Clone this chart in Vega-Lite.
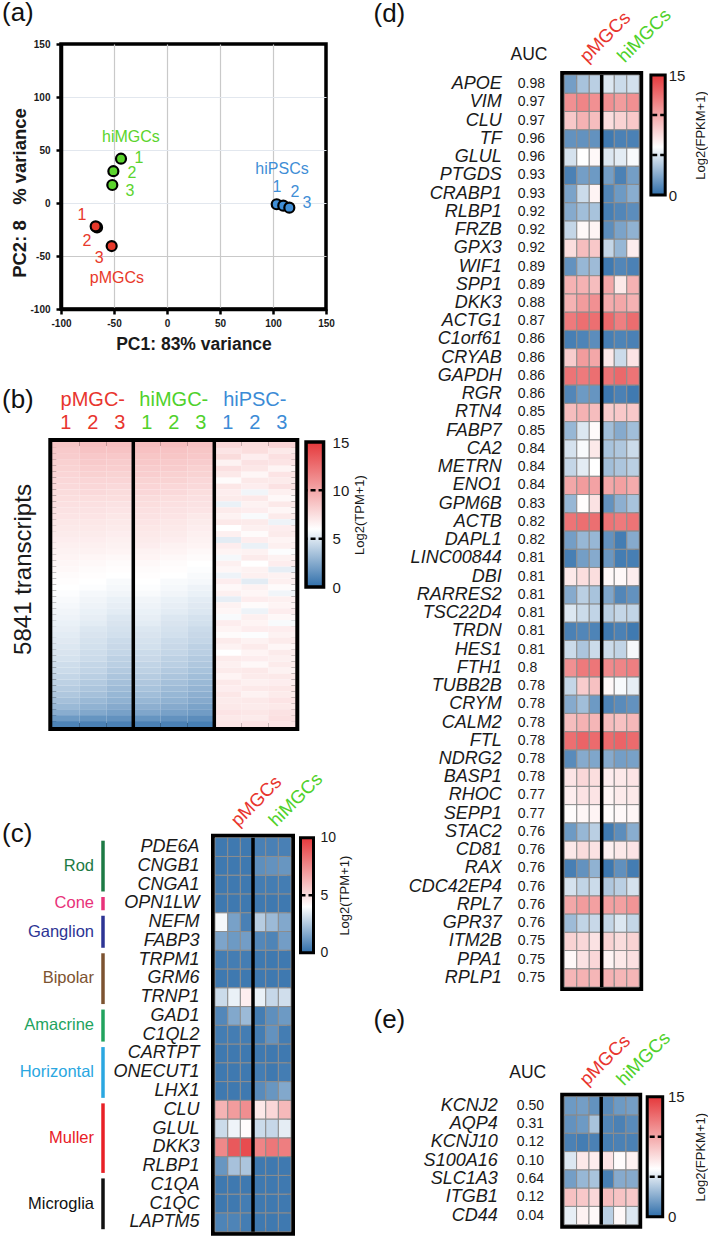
{
"$schema": "https://vega.github.io/schema/vega-lite/v6.json",
"background": "white",
"autosize": {"type": "pad"},
"padding": {"left": 2, "top": 0, "right": 0, "bottom": 0},
"config": {
  "font": "Liberation Sans",
  "view": {"stroke": null},
  "axis": {"labelFont": "Liberation Sans", "titleFont": "Liberation Sans", "labelColor": "#1a1a1a", "titleColor": "#1a1a1a"},
  "title": {"font": "Liberation Sans", "fontSize": 26, "fontWeight": "normal", "anchor": "start", "frame": "group", "color": "#111111"}
},
"datasets": {
  "ta": [{"t": "PC2: 8\u00a0\u00a0 % variance"}],
  "tb": [{"t": "5841 transcripts"}],
  "dhead": [{"s": "p2", "t": "pMGCs"}, {"s": "h2", "t": "hiMGCs"}],
  "pca": [
    {"pc1": -66.0, "pc2": -23.0, "grp": "pMGCs"},
    {"pc1": -67.3, "pc2": -22.0, "grp": "pMGCs"},
    {"pc1": -52.2, "pc2": -40.6, "grp": "pMGCs"},
    {"pc1": -43.4, "pc2": 41.8, "grp": "hiMGCs"},
    {"pc1": -50.6, "pc2": 30.0, "grp": "hiMGCs"},
    {"pc1": -51.6, "pc2": 17.0, "grp": "hiMGCs"},
    {"pc1": 103.5, "pc2": -1.2, "grp": "hiPSCs"},
    {"pc1": 109.7, "pc2": -2.5, "grp": "hiPSCs"},
    {"pc1": 115.4, "pc2": -4.4, "grp": "hiPSCs"}
  ],
  "pcalab": [
    {"x": -34, "y": 62, "t": "hiMGCs", "grp": "hiMGCs"},
    {"x": -26.4, "y": 42.5, "t": "1", "grp": "hiMGCs"},
    {"x": -33, "y": 28.3, "t": "2", "grp": "hiMGCs"},
    {"x": -35, "y": 11.3, "t": "3", "grp": "hiMGCs"},
    {"x": -80.2, "y": -11.3, "t": "1", "grp": "pMGCs"},
    {"x": -75.5, "y": -35.8, "t": "2", "grp": "pMGCs"},
    {"x": -64, "y": -51.9, "t": "3", "grp": "pMGCs"},
    {"x": -47.2, "y": -70.8, "t": "pMGCs", "grp": "pMGCs"},
    {"x": 108.5, "y": 32, "t": "hiPSCs", "grp": "hiPSCs"},
    {"x": 103.8, "y": 15.1, "t": "1", "grp": "hiPSCs"},
    {"x": 120.8, "y": 10.4, "t": "2", "grp": "hiPSCs"},
    {"x": 132, "y": 0, "t": "3", "grp": "hiPSCs"}
  ],
  "bh": [
    {"r":1,"p1":8.6,"p2":8.9,"p3":8.9,"m1":9.0,"m2":9.0,"m3":8.8,"i1":7.8,"i2":7.6,"i3":7.9},
    {"r":2,"p1":8.4,"p2":8.7,"p3":8.7,"m1":8.8,"m2":8.7,"m3":8.6,"i1":7.2,"i2":7.5,"i3":7.0},
    {"r":3,"p1":8.3,"p2":8.5,"p3":8.5,"m1":8.6,"m2":8.6,"m3":8.5,"i1":7.6,"i2":6.8,"i3":7.4},
    {"r":4,"p1":8.1,"p2":8.4,"p3":8.3,"m1":8.5,"m2":8.4,"m3":8.3,"i1":6.6,"i2":7.3,"i3":7.2},
    {"r":5,"p1":8.0,"p2":8.2,"p3":8.2,"m1":8.3,"m2":8.3,"m3":8.1,"i1":7.4,"i2":7.1,"i3":6.5},
    {"r":6,"p1":7.9,"p2":8.1,"p3":8.0,"m1":8.2,"m2":8.1,"m3":8.0,"i1":7.0,"i2":6.4,"i3":7.2},
    {"r":7,"p1":7.8,"p2":7.9,"p3":7.9,"m1":8.0,"m2":8.0,"m3":7.8,"i1":6.2,"i2":7.0,"i3":6.9},
    {"r":8,"p1":7.7,"p2":7.8,"p3":7.7,"m1":7.9,"m2":7.8,"m3":7.7,"i1":7.1,"i2":6.8,"i3":7.3},
    {"r":9,"p1":7.6,"p2":7.7,"p3":7.6,"m1":7.8,"m2":7.7,"m3":7.5,"i1":6.8,"i2":5.6,"i3":6.7},
    {"r":10,"p1":7.5,"p2":7.5,"p3":7.5,"m1":7.6,"m2":7.5,"m3":7.4,"i1":6.9,"i2":7.0,"i3":6.3},
    {"r":11,"p1":7.4,"p2":7.4,"p3":7.3,"m1":7.5,"m2":7.4,"m3":7.3,"i1":5.4,"i2":6.6,"i3":7.0},
    {"r":12,"p1":7.3,"p2":7.3,"p3":7.2,"m1":7.4,"m2":7.3,"m3":7.2,"i1":6.9,"i2":6.8,"i3":6.4},
    {"r":13,"p1":7.2,"p2":7.2,"p3":7.1,"m1":7.3,"m2":7.2,"m3":7.0,"i1":6.6,"i2":5.8,"i3":6.9},
    {"r":14,"p1":7.1,"p2":7.1,"p3":7.0,"m1":7.2,"m2":7.1,"m3":6.9,"i1":7.0,"i2":6.9,"i3":5.5},
    {"r":15,"p1":7.0,"p2":7.0,"p3":6.9,"m1":7.1,"m2":7.0,"m3":6.8,"i1":6.0,"i2":6.7,"i3":6.8},
    {"r":16,"p1":6.9,"p2":6.9,"p3":6.8,"m1":7.0,"m2":6.9,"m3":6.7,"i1":6.7,"i2":6.2,"i3":6.9},
    {"r":17,"p1":6.8,"p2":6.8,"p3":6.7,"m1":6.9,"m2":6.8,"m3":6.6,"i1":5.2,"i2":6.8,"i3":6.5},
    {"r":18,"p1":6.7,"p2":6.7,"p3":6.6,"m1":6.8,"m2":6.6,"m3":6.5,"i1":6.8,"i2":5.4,"i3":6.7},
    {"r":19,"p1":6.6,"p2":6.6,"p3":6.5,"m1":6.6,"m2":6.5,"m3":6.3,"i1":6.5,"i2":6.6,"i3":5.9},
    {"r":20,"p1":6.5,"p2":6.4,"p3":6.3,"m1":6.5,"m2":6.3,"m3":6.2,"i1":5.7,"i2":6.9,"i3":6.6},
    {"r":21,"p1":6.4,"p2":6.3,"p3":6.2,"m1":6.3,"m2":6.2,"m3":6.0,"i1":6.7,"i2":6.0,"i3":6.8},
    {"r":22,"p1":6.3,"p2":6.2,"p3":6.1,"m1":6.2,"m2":6.1,"m3":5.9,"i1":6.4,"i2":6.6,"i3":5.3},
    {"r":23,"p1":6.2,"p2":6.1,"p3":6.0,"m1":6.1,"m2":6.0,"m3":5.8,"i1":5.5,"i2":6.7,"i3":6.6},
    {"r":24,"p1":6.1,"p2":6.0,"p3":5.8,"m1":6.0,"m2":5.8,"m3":5.7,"i1":6.8,"i2":5.2,"i3":6.7},
    {"r":25,"p1":6.0,"p2":5.9,"p3":5.7,"m1":5.9,"m2":5.7,"m3":5.5,"i1":6.3,"i2":6.6,"i3":6.2},
    {"r":26,"p1":5.9,"p2":5.7,"p3":5.6,"m1":5.8,"m2":5.6,"m3":5.4,"i1":6.7,"i2":6.4,"i3":5.6},
    {"r":27,"p1":5.8,"p2":5.6,"p3":5.4,"m1":5.6,"m2":5.4,"m3":5.2,"i1":5.3,"i2":6.8,"i3":6.7},
    {"r":28,"p1":5.7,"p2":5.5,"p3":5.3,"m1":5.5,"m2":5.3,"m3":5.1,"i1":6.6,"i2":6.2,"i3":6.5},
    {"r":29,"p1":5.6,"p2":5.4,"p3":5.2,"m1":5.4,"m2":5.2,"m3":5.0,"i1":6.4,"i2":5.5,"i3":6.8},
    {"r":30,"p1":5.5,"p2":5.3,"p3":5.0,"m1":5.3,"m2":5.0,"m3":4.8,"i1":5.8,"i2":6.7,"i3":6.3},
    {"r":31,"p1":5.4,"p2":5.2,"p3":4.9,"m1":5.2,"m2":4.9,"m3":4.7,"i1":6.8,"i2":6.5,"i3":5.8},
    {"r":32,"p1":5.3,"p2":5.0,"p3":4.8,"m1":5.0,"m2":4.8,"m3":4.5,"i1":6.5,"i2":6.8,"i3":6.8},
    {"r":33,"p1":5.2,"p2":4.9,"p3":4.7,"m1":4.9,"m2":4.7,"m3":4.4,"i1":6.2,"i2":5.9,"i3":6.6},
    {"r":34,"p1":5.1,"p2":4.8,"p3":4.5,"m1":4.8,"m2":4.5,"m3":4.3,"i1":6.9,"i2":6.6,"i3":6.9},
    {"r":35,"p1":5.0,"p2":4.7,"p3":4.4,"m1":4.7,"m2":4.4,"m3":4.1,"i1":6.6,"i2":6.9,"i3":6.4},
    {"r":36,"p1":4.9,"p2":4.6,"p3":4.3,"m1":4.5,"m2":4.3,"m3":4.0,"i1":6.0,"i2":6.5,"i3":6.9},
    {"r":37,"p1":4.8,"p2":4.5,"p3":4.1,"m1":4.4,"m2":4.1,"m3":3.8,"i1":6.9,"i2":6.8,"i3":6.7},
    {"r":38,"p1":4.6,"p2":4.3,"p3":4.0,"m1":4.2,"m2":4.0,"m3":3.7,"i1":6.7,"i2":6.3,"i3":6.9},
    {"r":39,"p1":4.5,"p2":4.2,"p3":3.8,"m1":4.1,"m2":3.8,"m3":3.5,"i1":6.9,"i2":7.0,"i3":6.6},
    {"r":40,"p1":4.3,"p2":4.0,"p3":3.6,"m1":3.9,"m2":3.6,"m3":3.3,"i1":6.5,"i2":6.9,"i3":7.0},
    {"r":41,"p1":4.1,"p2":3.8,"p3":3.4,"m1":3.7,"m2":3.4,"m3":3.1,"i1":7.0,"i2":6.7,"i3":6.8},
    {"r":42,"p1":3.9,"p2":3.6,"p3":3.2,"m1":3.5,"m2":3.2,"m3":2.9,"i1":6.8,"i2":7.0,"i3":7.1},
    {"r":43,"p1":3.7,"p2":3.4,"p3":3.0,"m1":3.3,"m2":3.0,"m3":2.7,"i1":7.1,"i2":6.6,"i3":6.9},
    {"r":44,"p1":3.4,"p2":3.1,"p3":2.8,"m1":3.0,"m2":2.8,"m3":2.5,"i1":6.9,"i2":7.0,"i3":7.2},
    {"r":45,"p1":3.1,"p2":2.8,"p3":2.5,"m1":2.7,"m2":2.5,"m3":2.2,"i1":7.0,"i2":6.9,"i3":7.0},
    {"r":46,"p1":2.6,"p2":2.4,"p3":2.1,"m1":2.3,"m2":2.1,"m3":1.9,"i1":7.2,"i2":7.1,"i3":7.3},
    {"r":47,"p1":1.8,"p2":1.6,"p3":1.5,"m1":1.6,"m2":1.5,"m3":1.3,"i1":7.0,"i2":6.9,"i3":7.4},
    {"r":48,"p1":0.9,"p2":0.8,"p3":0.8,"m1":0.8,"m2":0.8,"m3":0.7,"i1":7.1,"i2":7.2,"i3":7.2}
  ],
  "c": [
    {"g":"PDE6A","p1":0.3,"p2":0.3,"p3":0.3,"h1":0.5,"h2":0.5,"h3":0.5},
    {"g":"CNGB1","p1":0.3,"p2":0.3,"p3":0.3,"h1":0.9,"h2":1.0,"h3":1.1},
    {"g":"CNGA1","p1":0.3,"p2":0.3,"p3":0.3,"h1":0.4,"h2":0.4,"h3":0.4},
    {"g":"OPN1LW","p1":0.3,"p2":0.3,"p3":0.3,"h1":0.3,"h2":0.3,"h3":0.3},
    {"g":"NEFM","p1":3.8,"p2":1.4,"p3":0.5,"h1":2.6,"h2":2.1,"h3":1.6},
    {"g":"FABP3","p1":1.5,"p2":1.2,"p3":1.3,"h1":0.7,"h2":0.6,"h3":1.3},
    {"g":"TRPM1","p1":0.4,"p2":0.4,"p3":0.4,"h1":0.3,"h2":0.3,"h3":0.3},
    {"g":"GRM6","p1":0.3,"p2":0.3,"p3":0.3,"h1":0.3,"h2":0.3,"h3":0.3},
    {"g":"TRNP1","p1":3.0,"p2":3.6,"p3":4.5,"h1":3.6,"h2":2.9,"h3":3.1},
    {"g":"GAD1","p1":0.7,"p2":1.6,"p3":2.1,"h1":0.4,"h2":0.9,"h3":1.2},
    {"g":"C1QL2","p1":0.4,"p2":0.4,"p3":0.4,"h1":0.4,"h2":1.0,"h3":0.4},
    {"g":"CARTPT","p1":0.3,"p2":0.3,"p3":0.3,"h1":0.3,"h2":0.3,"h3":0.3},
    {"g":"ONECUT1","p1":0.3,"p2":0.3,"p3":0.3,"h1":0.4,"h2":0.3,"h3":0.4},
    {"g":"LHX1","p1":0.3,"p2":0.3,"p3":0.3,"h1":0.8,"h2":1.1,"h3":1.6},
    {"g":"CLU","p1":6.3,"p2":7.0,"p3":7.4,"h1":4.7,"h2":5.2,"h3":6.1},
    {"g":"GLUL","p1":3.0,"p2":3.7,"p3":4.1,"h1":3.0,"h2":2.9,"h3":3.5},
    {"g":"DKK3","p1":7.6,"p2":9.0,"p3":9.4,"h1":7.7,"h2":8.1,"h3":7.9},
    {"g":"RLBP1","p1":1.1,"p2":2.3,"p3":2.4,"h1":0.3,"h2":0.3,"h3":0.3},
    {"g":"C1QA","p1":0.3,"p2":0.3,"p3":0.3,"h1":0.3,"h2":0.3,"h3":0.3},
    {"g":"C1QC","p1":0.3,"p2":0.3,"p3":0.4,"h1":0.3,"h2":0.3,"h3":0.3},
    {"g":"LAPTM5","p1":0.6,"p2":0.6,"p3":0.4,"h1":0.3,"h2":0.3,"h3":0.3}
  ],
  "cg": [
    {"grp":"Rod","from":0,"to":3},
    {"grp":"Cone","from":3,"to":4},
    {"grp":"Ganglion","from":4,"to":6},
    {"grp":"Bipolar","from":6,"to":9},
    {"grp":"Amacrine","from":9,"to":11},
    {"grp":"Horizontal","from":11,"to":14},
    {"grp":"Muller","from":14,"to":18},
    {"grp":"Microglia","from":18,"to":21}
  ],
  "d": [
    {"k":"APOE|0.98","p1":2,"p2":3.5,"p3":4,"h1":5,"h2":4.5,"h3":4.7},
    {"k":"VIM|0.97","p1":11,"p2":11.5,"p3":11,"h1":11,"h2":10.5,"h3":11},
    {"k":"CLU|0.97","p1":8.5,"p2":9.5,"p3":9,"h1":7.5,"h2":8,"h3":8.5},
    {"k":"TF|0.96","p1":1.5,"p2":1.5,"p3":1.5,"h1":0.5,"h2":0.8,"h3":0.8},
    {"k":"GLUL|0.96","p1":4.8,"p2":6,"p3":6.3,"h1":5,"h2":5.2,"h3":5.8},
    {"k":"PTGDS|0.93","p1":0.8,"p2":2,"p3":1.8,"h1":2,"h2":0.8,"h3":2},
    {"k":"CRABP1|0.93","p1":2.2,"p2":4.5,"p3":6.5,"h1":1,"h2":1.8,"h3":2.6},
    {"k":"RLBP1|0.92","p1":2.5,"p2":3.3,"p3":3.5,"h1":0.7,"h2":1,"h3":1.3},
    {"k":"FRZB|0.92","p1":4.3,"p2":6.3,"p3":6.5,"h1":1.3,"h2":2.2,"h3":2.8},
    {"k":"GPX3|0.92","p1":7.5,"p2":9,"p3":8.5,"h1":4.3,"h2":3,"h3":6.8},
    {"k":"WIF1|0.89","p1":1.5,"p2":3,"p3":3.2,"h1":0.5,"h2":1,"h3":0.8},
    {"k":"SPP1|0.89","p1":9.5,"p2":9.5,"p3":9,"h1":10,"h2":7,"h3":9.5},
    {"k":"DKK3|0.88","p1":9.5,"p2":10.5,"p3":11,"h1":9.8,"h2":10,"h3":9.5},
    {"k":"ACTG1|0.87","p1":12,"p2":12.5,"p3":12.5,"h1":12.8,"h2":11.8,"h3":12.6},
    {"k":"C1orf61|0.86","p1":0.7,"p2":0.9,"p3":1.3,"h1":0.7,"h2":0.9,"h3":0.8},
    {"k":"CRYAB|0.86","p1":8.3,"p2":10.5,"p3":10,"h1":7,"h2":4.5,"h3":7.2},
    {"k":"GAPDH|0.86","p1":12.3,"p2":12,"p3":12.5,"h1":12.3,"h2":12.8,"h3":12.3},
    {"k":"RGR|0.86","p1":1,"p2":1.8,"p3":1.6,"h1":0.4,"h2":0.8,"h3":0.5},
    {"k":"RTN4|0.85","p1":9,"p2":9.5,"p3":9,"h1":8.3,"h2":8.5,"h3":8.5},
    {"k":"FABP7|0.85","p1":3,"p2":5,"p3":6.2,"h1":3.3,"h2":2.5,"h3":3.3},
    {"k":"CA2|0.84","p1":4.8,"p2":5.8,"p3":7,"h1":3.5,"h2":3.7,"h3":4.5},
    {"k":"METRN|0.84","p1":4.3,"p2":5.2,"p3":6,"h1":3.3,"h2":3.6,"h3":4},
    {"k":"ENO1|0.84","p1":10,"p2":10.5,"p3":10.2,"h1":10,"h2":10.3,"h3":9.8},
    {"k":"GPM6B|0.83","p1":3,"p2":6.1,"p3":7.3,"h1":1.5,"h2":2.7,"h3":3.5},
    {"k":"ACTB|0.82","p1":12.3,"p2":12.5,"p3":12.5,"h1":12.3,"h2":12,"h3":12.3},
    {"k":"DAPL1|0.82","p1":2,"p2":3,"p3":3,"h1":1.5,"h2":0.6,"h3":2.5},
    {"k":"LINC00844|0.81","p1":0.7,"p2":2,"p3":2.5,"h1":1.7,"h2":0.6,"h3":0.7},
    {"k":"DBI|0.81","p1":7,"p2":7.5,"p3":7.5,"h1":6.3,"h2":6.3,"h3":6.8},
    {"k":"RARRES2|0.81","p1":2.5,"p2":4,"p3":3.5,"h1":2.3,"h2":1,"h3":1.5},
    {"k":"TSC22D4|0.81","p1":5,"p2":4.5,"p3":4.2,"h1":4,"h2":4.3,"h3":4.2},
    {"k":"TRDN|0.81","p1":0.8,"p2":1,"p3":0.9,"h1":0.5,"h2":0.8,"h3":0.5},
    {"k":"HES1|0.81","p1":4.5,"p2":3.6,"p3":4.5,"h1":4.5,"h2":4.2,"h3":5.7},
    {"k":"FTH1|0.8","p1":11,"p2":12,"p3":12.2,"h1":11.3,"h2":11.5,"h3":11.8},
    {"k":"TUBB2B|0.78","p1":4.3,"p2":8.3,"p3":8.8,"h1":6.3,"h2":5.8,"h3":5.3},
    {"k":"CRYM|0.78","p1":2.5,"p2":3.3,"p3":1.8,"h1":0.9,"h2":1.2,"h3":1.5},
    {"k":"CALM2|0.78","p1":9,"p2":9.5,"p3":9.3,"h1":9,"h2":8.8,"h3":9.2},
    {"k":"FTL|0.78","p1":12.5,"p2":13,"p3":12.7,"h1":12.7,"h2":13,"h3":12.7},
    {"k":"NDRG2|0.78","p1":1.2,"p2":2.5,"p3":2.3,"h1":2.5,"h2":2,"h3":2.1},
    {"k":"BASP1|0.78","p1":7.2,"p2":7.8,"p3":7.5,"h1":6.8,"h2":7,"h3":7.2},
    {"k":"RHOC|0.77","p1":6.8,"p2":7.3,"p3":7.2,"h1":6.5,"h2":6.9,"h3":7},
    {"k":"SEPP1|0.77","p1":6.2,"p2":6.4,"p3":6.5,"h1":6.2,"h2":6.3,"h3":6.4},
    {"k":"STAC2|0.76","p1":1.8,"p2":3,"p3":4,"h1":0.5,"h2":1.3,"h3":2.6},
    {"k":"CD81|0.76","p1":7,"p2":7.6,"p3":7.3,"h1":6.7,"h2":7,"h3":7.2},
    {"k":"RAX|0.76","p1":0.7,"p2":1.5,"p3":2.8,"h1":0.4,"h2":1.4,"h3":0.6},
    {"k":"CDC42EP4|0.76","p1":4.8,"p2":4.2,"p3":4.5,"h1":3.7,"h2":4,"h3":4.8},
    {"k":"RPL7|0.76","p1":10,"p2":10.5,"p3":10.3,"h1":10.3,"h2":10.3,"h3":10.8},
    {"k":"GPR37|0.76","p1":3.2,"p2":4.2,"p3":4.4,"h1":4.3,"h2":5,"h3":4.3},
    {"k":"ITM2B|0.75","p1":8,"p2":7.8,"p3":7.3,"h1":8,"h2":7.6,"h3":8},
    {"k":"PPA1|0.75","p1":6.3,"p2":7.3,"p3":7.8,"h1":6.5,"h2":7,"h3":7.4},
    {"k":"RPLP1|0.75","p1":9.3,"p2":9.5,"p3":9.3,"h1":9.5,"h2":9.3,"h3":9.3}
  ],
  "e": [
    {"k":"KCNJ2|0.50","p1":1.8,"p2":2,"p3":1.5,"h1":1.2,"h2":1.8,"h3":2},
    {"k":"AQP4|0.31","p1":1.5,"p2":1.8,"p3":3.5,"h1":1,"h2":0.8,"h3":1.2},
    {"k":"KCNJ10|0.12","p1":0.8,"p2":0.6,"p3":0.8,"h1":0.7,"h2":0.8,"h3":0.8},
    {"k":"S100A16|0.10","p1":5,"p2":7,"p3":6.8,"h1":7.2,"h2":6.2,"h3":6.6},
    {"k":"SLC1A3|0.64","p1":2,"p2":3,"p3":3.5,"h1":0.7,"h2":2.5,"h3":2.5},
    {"k":"ITGB1|0.12","p1":8.8,"p2":8.5,"p3":7.8,"h1":9,"h2":8.7,"h3":8.5},
    {"k":"CD44|0.04","p1":5.3,"p2":6.6,"p3":6.3,"h1":4,"h2":6.3,"h3":5}
  ],
  "sep": [{"s": "h1"}],
  "sepb": [{"s": "m1"}, {"s": "i1"}],
  "cb15": [{"lo": 0, "hi": 15}],
  "cb10": [{"lo": 0, "hi": 10}],
  "tk": [{"t": 5}, {"t": 10}]
},
"spacing": 2.2,
"resolve": {"scale": {"color": "independent"}, "legend": {"color": "independent"}},
"hconcat": [
  {
    "spacing": 30,
    "resolve": {"scale": {"color": "independent"}, "legend": {"color": "independent"}},
    "vconcat": [
      {
        "bounds": "flush",
        "spacing": 23,
        "resolve": {"scale": {"color": "independent"}, "legend": {"color": "independent"}},
        "hconcat": [
          {
            "width": 36, "height": 298,
            "title": {"text": "(a)", "offset": 18},
            "data": {"name": "ta"},
            "mark": {"type": "text", "angle": 270, "fontSize": 18.5, "fontWeight": "bold", "align": "center", "baseline": "middle", "color": "#1a1a1a"},
            "encoding": {"text": {"field": "t"}}
          },
          {
            "width": 265, "height": 265,
            "view": {"stroke": "black", "strokeWidth": 3.5},
            "layer": [
              {
                "data": {"name": "pca"},
                "mark": {"type": "circle", "size": 100, "stroke": "black", "strokeWidth": 2.2, "opacity": 1},
                "encoding": {
                  "x": {"field": "pc1", "type": "quantitative", "scale": {"domain": [-100, 150], "nice": false, "zero": false},
                    "axis": {"title": "PC1: 83% variance", "values": [-100, -75, -50, -25, 0, 25, 50, 75, 100, 125, 150],
                      "labelExpr": "datum.value % 50 == 0 ? toString(datum.value) : ''", "labelFlush": false, "labelOverlap": false,
                      "labelFontWeight": "bold", "labelFontSize": 10, "labelPadding": 4, "tickSize": 5, "tickWidth": 2.5, "tickColor": "black",
                      "domainColor": "black", "domainWidth": 3.5, "grid": true, "gridColor": "#c9c9c9", "gridWidth": 1.2,
                      "gridOpacity": {"condition": {"test": "datum.value % 50 != 0 || datum.value == -100 || datum.value == 150", "value": 0}, "value": 1},
                      "titleFontSize": 17.5, "titleFontWeight": "bold", "titlePadding": 7}},
                  "y": {"field": "pc2", "type": "quantitative", "scale": {"domain": [-100, 150], "nice": false, "zero": false},
                    "axis": {"title": null, "values": [-100, -75, -50, -25, 0, 25, 50, 75, 100, 125, 150],
                      "labelExpr": "datum.value % 50 == 0 ? toString(datum.value) : ''", "labelFlush": false, "labelOverlap": false,
                      "labelFontWeight": "bold", "labelFontSize": 10, "labelPadding": 6, "tickSize": 5, "tickWidth": 2.5, "tickColor": "black",
                      "domainColor": "black", "domainWidth": 3.5, "grid": true,
                      "gridColor": {"condition": {"test": "datum.value == -50", "value": "#c9c9c9"}, "value": "#e2e7ee"}, "gridWidth": 1.2,
                      "gridOpacity": {"condition": {"test": "datum.value % 50 != 0 || datum.value == -100 || datum.value == 150", "value": 0}, "value": 1}}},
                  "color": {"field": "grp", "type": "nominal", "scale": {"domain": ["pMGCs", "hiMGCs", "hiPSCs"], "range": ["#e8392b", "#5bd42d", "#3f8ed6"]}, "legend": null}
                }
              },
              {
                "data": {"name": "pcalab"},
                "mark": {"type": "text", "fontSize": 16, "align": "center", "baseline": "middle"},
                "encoding": {
                  "x": {"field": "x", "type": "quantitative"},
                  "y": {"field": "y", "type": "quantitative"},
                  "text": {"field": "t"},
                  "color": {"field": "grp", "type": "nominal", "legend": null}
                }
              }
            ]
          }
        ]
      },
      {
        "spacing": 31.7,
        "resolve": {"scale": {"color": "independent"}, "legend": {"color": "independent"}},
        "vconcat": [
          {
            "bounds": "flush",
            "spacing": 6.3,
            "resolve": {"scale": {"color": "independent"}, "legend": {"color": "independent"}},
            "hconcat": [
              {
                "width": 44, "height": 255,
                "title": {"text": "(b)", "offset": 29},
                "data": {"name": "tb"},
                "mark": {"type": "text", "angle": 270, "fontSize": 24, "align": "center", "baseline": "middle", "color": "#1a1a1a"},
                "encoding": {"text": {"field": "t"}}
              },
              {
                "bounds": "flush",
                "spacing": 10.75,
                "resolve": {"scale": {"color": "independent"}, "legend": {"color": "independent"}},
                "hconcat": [
                  {
                    "width": 243, "height": 285,
                    "view": {"stroke": "black", "strokeWidth": 8},
                    "layer": [
                      {
                        "data": {"name": "bh"},
                        "transform": [{"fold": ["p1", "p2", "p3", "m1", "m2", "m3", "i1", "i2", "i3"], "as": ["s", "v"]}],
                        "mark": {"type": "rect"},
                        "encoding": {
                          "x": {"field": "s", "type": "nominal", "sort": ["p1", "p2", "p3", "m1", "m2", "m3", "i1", "i2", "i3"], "scale": {"paddingInner": 0, "paddingOuter": 0},
                            "axis": {"orient": "top", "title": null, "domain": false, "ticks": false, "tickSize": 0, "labelAngle": 0, "labelFontSize": 20,
                              "labelPadding": 33, "labelLineHeight": 23, "labelBaseline": "bottom", "labelOverlap": false, "labelBound": false,
                              "labelExpr": "datum.value=='p2' ? ['pMGC-','2'] : datum.value=='m2' ? ['hiMGC-','2'] : datum.value=='i2' ? ['hiPSC-','2'] : ['', substring(datum.value,1,2)]",
                              "labelColor": {"condition": [{"test": "substring(datum.value,0,1)=='p'", "value": "#e8352e"}, {"test": "substring(datum.value,0,1)=='m'", "value": "#4fd12b"}], "value": "#3b8bd6"}}},
                          "y": {"field": "r", "type": "ordinal", "scale": {"paddingInner": 0, "paddingOuter": 0}, "axis": null},
                          "color": {"field": "v", "type": "quantitative", "scale": {"domain": [0, 6, 15], "range": ["#2f6eaa", "#ffffff", "#e5383b"], "interpolate": "rgb"}, "legend": null}
                        }
                      },
                      {
                        "data": {"name": "sepb"},
                        "mark": {"type": "rule", "strokeWidth": 3.5, "color": "black"},
                        "encoding": {"x": {"field": "s", "type": "nominal", "sort": ["p1", "p2", "p3", "m1", "m2", "m3", "i1", "i2", "i3"], "bandPosition": 0}}
                      }
                    ]
                  },
                  {
                    "width": 17.5, "height": 145,
                    "layer": [
                      {
                        "data": {"name": "cb15"},
                        "mark": {"type": "rect", "stroke": "black", "strokeWidth": 3.5,
                          "fill": {"gradient": "linear", "x1": 0, "y1": 1, "x2": 0, "y2": 0, "stops": [{"offset": 0, "color": "#2f6eaa"}, {"offset": 0.4, "color": "#ffffff"}, {"offset": 1, "color": "#e5383b"}]}},
                        "encoding": {
                          "y": {"field": "lo", "type": "quantitative", "scale": {"domain": [0, 15], "nice": false, "zero": false},
                            "axis": {"orient": "right", "values": [0, 5, 10, 15], "domain": false, "ticks": false, "grid": false, "labelFlush": false, "labelPadding": 8.5, "labelFontSize": 15,
                              "title": "Log2(TPM+1)", "titleAngle": 270, "titleBaseline": "top", "titleFontSize": 13, "titleFontWeight": "normal", "titlePadding": 5}},
                          "y2": {"field": "hi"}
                        }
                      },
                      {
                        "data": {"name": "tk"},
                        "mark": {"type": "rule", "strokeDash": [5, 3], "strokeWidth": 2.5, "color": "black"},
                        "encoding": {"y": {"field": "t", "type": "quantitative"}}
                      }
                    ]
                  }
                ]
              }
            ]
          },
          {
            "bounds": "flush",
            "spacing": 112,
            "resolve": {"scale": {"color": "independent"}, "legend": {"color": "independent"}},
            "hconcat": [
              {
                "width": 101, "height": 394,
                "title": {"text": "(c)", "offset": -9},
                "data": {"name": "cg"},
                "layer": [
                  {
                    "mark": {"type": "rule", "strokeWidth": 3.5, "yOffset": 3, "y2Offset": -2.5},
                    "encoding": {
                      "x": {"datum": 1, "type": "quantitative", "scale": {"domain": [0, 1]}, "axis": null},
                      "y": {"field": "from", "type": "quantitative", "scale": {"domain": [0, 21], "reverse": true, "nice": false, "zero": false}, "axis": null},
                      "y2": {"field": "to"},
                      "color": {"field": "grp", "type": "nominal", "scale": {"domain": ["Rod", "Cone", "Ganglion", "Bipolar", "Amacrine", "Horizontal", "Muller", "Microglia"],
                        "range": ["#1d7a44", "#e8327a", "#2d3494", "#7d5330", "#21a35e", "#2aa7e1", "#e82026", "#111111"]}, "legend": null}
                    }
                  },
                  {
                    "transform": [{"fold": ["from", "to"], "as": ["kk", "pos"]}],
                    "mark": {"type": "text", "align": "right", "baseline": "middle", "dx": -9, "fontSize": 16.5},
                    "encoding": {
                      "x": {"datum": 1, "type": "quantitative", "axis": null},
                      "y": {"aggregate": "mean", "field": "pos", "type": "quantitative", "axis": null},
                      "text": {"field": "grp"},
                      "color": {"field": "grp", "type": "nominal", "legend": null}
                    }
                  }
                ]
              },
              {
                "bounds": "flush",
                "spacing": 9.5,
                "resolve": {"scale": {"color": "independent"}, "legend": {"color": "independent"}},
                "hconcat": [
                  {
                    "width": 76, "height": 394,
                    "view": {"stroke": "black", "strokeWidth": 8},
                    "layer": [
                      {
                        "data": {"name": "c"},
                        "transform": [{"fold": ["p1", "p2", "p3", "h1", "h2", "h3"], "as": ["s", "v"]}],
                        "mark": {"type": "rect"},
                        "encoding": {
                          "x": {"field": "s", "type": "nominal", "sort": ["p1", "p2", "p3", "h1", "h2", "h3"], "scale": {"paddingInner": 0, "paddingOuter": 0},
                            "axis": {"orient": "top", "title": null, "domain": false, "ticks": false, "tickSize": 0, "labelAngle": -45, "labelAlign": "left", "labelBaseline": "middle",
                              "labelPadding": 15, "labelFontSize": 18.5, "labelOverlap": false, "labelBound": false,
                              "labelExpr": "datum.value=='p2' ? 'pMGCs' : (datum.value=='h2' ? 'hiMGCs' : '')",
                              "labelColor": {"condition": {"test": "datum.value=='p2'", "value": "#e8352e"}, "value": "#4fd12b"}}},
                          "y": {"field": "g", "type": "nominal", "sort": null, "scale": {"paddingInner": 0, "paddingOuter": 0},
                            "axis": {"title": null, "domain": false, "ticks": false, "tickSize": 0, "labelPadding": 16, "labelFontSize": 18, "labelFontStyle": "italic"}},
                          "color": {"field": "v", "type": "quantitative", "scale": {"domain": [0, 4, 10], "range": ["#2f6eaa", "#ffffff", "#e5383b"], "interpolate": "rgb"}, "legend": null}
                        }
                      },
                      {
                        "data": {"name": "c"},
                        "transform": [{"fold": ["p1", "p2", "p3", "h1", "h2", "h3"], "as": ["s", "v"]}],
                        "mark": {"type": "rect", "fillOpacity": 0, "stroke": "#8c8c8c", "strokeWidth": 0.8},
                        "encoding": {
                          "x": {"field": "s", "type": "nominal", "sort": ["p1", "p2", "p3", "h1", "h2", "h3"]},
                          "y": {"field": "g", "type": "nominal", "sort": null}
                        }
                      },
                      {
                        "data": {"name": "sep"},
                        "mark": {"type": "rule", "strokeWidth": 3.5, "color": "black"},
                        "encoding": {"x": {"field": "s", "type": "nominal", "sort": ["p1", "p2", "p3", "h1", "h2", "h3"], "bandPosition": 0}}
                      }
                    ]
                  },
                  {
                    "width": 13, "height": 115,
                    "layer": [
                      {
                        "data": {"name": "cb10"},
                        "mark": {"type": "rect", "stroke": "black", "strokeWidth": 3,
                          "fill": {"gradient": "linear", "x1": 0, "y1": 1, "x2": 0, "y2": 0, "stops": [{"offset": 0, "color": "#2f6eaa"}, {"offset": 0.4, "color": "#ffffff"}, {"offset": 1, "color": "#e5383b"}]}},
                        "encoding": {
                          "y": {"field": "lo", "type": "quantitative", "scale": {"domain": [0, 10], "nice": false, "zero": false},
                            "axis": {"orient": "right", "values": [0, 5, 10], "domain": false, "ticks": false, "grid": false, "labelFlush": false, "labelPadding": 6.5, "labelFontSize": 14,
                              "title": "Log2(TPM+1)", "titleAngle": 270, "titleBaseline": "top", "titleFontSize": 13, "titleFontWeight": "normal", "titlePadding": 3}},
                          "y2": {"field": "hi"}
                        }
                      },
                      {
                        "data": {"name": "tk"},
                        "transform": [{"filter": "datum.t == 5"}],
                        "mark": {"type": "rule", "strokeDash": [5, 3], "strokeWidth": 2.5, "color": "black"},
                        "encoding": {"y": {"field": "t", "type": "quantitative"}}
                      }
                    ]
                  }
                ]
              }
            ]
          }
        ]
      }
    ]
  },
  {
    "bounds": "flush",
    "spacing": 0,
    "resolve": {"scale": {"color": "independent"}, "legend": {"color": "independent"}},
    "vconcat": [
      {
        "width": 75, "height": 30.3,
        "title": {"text": "(d)", "dx": -190.7, "offset": -21},
        "data": {"name": "dhead"},
        "mark": {"type": "text", "angle": 315, "align": "left", "baseline": "middle", "fontSize": 18.5},
        "encoding": {
          "x": {"field": "s", "type": "nominal", "scale": {"domain": ["p1", "p2", "p3", "h1", "h2", "h3"], "paddingInner": 0, "paddingOuter": 0}, "axis": null},
          "text": {"field": "t"},
          "color": {"field": "t", "type": "nominal", "scale": {"domain": ["pMGCs", "hiMGCs"], "range": ["#e8352e", "#4fd12b"]}, "legend": null}
        }
      },
      {
        "spacing": 9.7,
        "resolve": {"scale": {"color": "independent"}, "legend": {"color": "independent"}},
        "vconcat": [
          {
            "bounds": "flush",
            "spacing": 11.7,
            "resolve": {"scale": {"color": "independent"}, "legend": {"color": "independent"}},
            "hconcat": [
              {
                "width": 75, "height": 912,
                "view": {"stroke": "black", "strokeWidth": 8},
                "resolve": {"axis": {"y": "independent"}},
                "layer": [
                  {
                    "data": {"name": "d"},
                    "transform": [{"fold": ["p1", "p2", "p3", "h1", "h2", "h3"], "as": ["s", "v"]}],
                    "mark": {"type": "rect"},
                    "encoding": {
                      "x": {"field": "s", "type": "nominal", "sort": ["p1", "p2", "p3", "h1", "h2", "h3"], "scale": {"paddingInner": 0, "paddingOuter": 0}, "axis": null},
                      "y": {"field": "k", "type": "nominal", "sort": null, "scale": {"paddingInner": 0, "paddingOuter": 0},
                        "axis": {"orient": "left", "offset": 0, "title": null, "domain": false, "ticks": false, "tickSize": 0, "labelPadding": 63, "labelFontSize": 18, "labelFontStyle": "italic",
                          "labelExpr": "split(datum.value,'|')[0]"}},
                      "color": {"field": "v", "type": "quantitative", "scale": {"domain": [0, 6, 15], "range": ["#2f6eaa", "#ffffff", "#e5383b"], "interpolate": "rgb"}, "legend": null}
                    }
                  },
                  {
                    "data": {"name": "d"},
                    "transform": [{"fold": ["p1", "p2", "p3", "h1", "h2", "h3"], "as": ["s", "v"]}],
                    "mark": {"type": "rect", "fillOpacity": 0, "stroke": "#8c8c8c", "strokeWidth": 0.8},
                    "encoding": {
                      "x": {"field": "s", "type": "nominal", "sort": ["p1", "p2", "p3", "h1", "h2", "h3"], "axis": null},
                      "y": {"field": "k", "type": "nominal", "sort": null,
                        "axis": {"orient": "left", "offset": 0, "title": "AUC", "titleAngle": 0, "titleX": -35.7, "titleY": -20.3, "titleAlign": "center", "titleBaseline": "middle",
                          "titleFontSize": 17.5, "titleFontWeight": "normal", "domain": false, "ticks": false, "tickSize": 0, "labelAlign": "left", "labelPadding": 47, "labelFontSize": 14,
                          "labelExpr": "split(datum.value,'|')[1]"}}
                    }
                  },
                  {
                    "data": {"name": "sep"},
                    "mark": {"type": "rule", "strokeWidth": 3.5, "color": "black"},
                    "encoding": {"x": {"field": "s", "type": "nominal", "sort": ["p1", "p2", "p3", "h1", "h2", "h3"], "bandPosition": 0, "axis": null}}
                  }
                ]
              },
              {
                "width": 14.3, "height": 120,
                "layer": [
                  {
                    "data": {"name": "cb15"},
                    "mark": {"type": "rect", "stroke": "black", "strokeWidth": 3,
                      "fill": {"gradient": "linear", "x1": 0, "y1": 1, "x2": 0, "y2": 0, "stops": [{"offset": 0, "color": "#2f6eaa"}, {"offset": 0.4, "color": "#ffffff"}, {"offset": 1, "color": "#e5383b"}]}},
                    "encoding": {
                      "y": {"field": "lo", "type": "quantitative", "scale": {"domain": [0, 15], "nice": false, "zero": false},
                        "axis": {"orient": "right", "values": [0, 5, 10, 15], "domain": false, "ticks": false, "grid": false, "labelFlush": false, "labelPadding": 3, "labelFontSize": 15,
                          "title": "Log2(FPKM+1)", "titleAngle": 270, "titleBaseline": "top", "titleFontSize": 13, "titleFontWeight": "normal", "titlePadding": 9.5}},
                      "y2": {"field": "hi"}
                    }
                  },
                  {
                    "data": {"name": "tk"},
                    "mark": {"type": "rule", "strokeDash": [5, 3], "strokeWidth": 2.5, "color": "black"},
                    "encoding": {"y": {"field": "t", "type": "quantitative"}}
                  }
                ]
              }
            ]
          },
          {
            "bounds": "flush",
            "spacing": 9,
            "resolve": {"scale": {"color": "independent"}, "legend": {"color": "independent"}},
            "hconcat": [
              {
                "width": 74, "height": 128,
                "view": {"stroke": "black", "strokeWidth": 8},
                "title": {"text": "(e)", "dx": -190.7, "offset": -5},
                "resolve": {"axis": {"y": "independent"}},
                "layer": [
                  {
                    "data": {"name": "e"},
                    "transform": [{"fold": ["p1", "p2", "p3", "h1", "h2", "h3"], "as": ["s", "v"]}],
                    "mark": {"type": "rect"},
                    "encoding": {
                      "x": {"field": "s", "type": "nominal", "sort": ["p1", "p2", "p3", "h1", "h2", "h3"], "scale": {"paddingInner": 0, "paddingOuter": 0},
                        "axis": {"orient": "top", "title": null, "domain": false, "ticks": false, "tickSize": 0, "labelAngle": -45, "labelAlign": "left", "labelBaseline": "middle",
                          "labelPadding": 15, "labelFontSize": 18.5, "labelOverlap": false, "labelBound": false,
                          "labelExpr": "datum.value=='p2' ? 'pMGCs' : (datum.value=='h2' ? 'hiMGCs' : '')",
                          "labelColor": {"condition": {"test": "datum.value=='p2'", "value": "#e8352e"}, "value": "#4fd12b"}}},
                      "y": {"field": "k", "type": "nominal", "sort": null, "scale": {"paddingInner": 0, "paddingOuter": 0},
                        "axis": {"orient": "left", "offset": 0, "title": null, "domain": false, "ticks": false, "tickSize": 0, "labelPadding": 67, "labelFontSize": 18, "labelFontStyle": "italic",
                          "labelExpr": "split(datum.value,'|')[0]"}},
                      "color": {"field": "v", "type": "quantitative", "scale": {"domain": [0, 6, 15], "range": ["#2f6eaa", "#ffffff", "#e5383b"], "interpolate": "rgb"}, "legend": null}
                    }
                  },
                  {
                    "data": {"name": "e"},
                    "transform": [{"fold": ["p1", "p2", "p3", "h1", "h2", "h3"], "as": ["s", "v"]}],
                    "mark": {"type": "rect", "fillOpacity": 0, "stroke": "#8c8c8c", "strokeWidth": 0.8},
                    "encoding": {
                      "x": {"field": "s", "type": "nominal", "sort": ["p1", "p2", "p3", "h1", "h2", "h3"]},
                      "y": {"field": "k", "type": "nominal", "sort": null,
                        "axis": {"orient": "left", "offset": 0, "title": "AUC", "titleAngle": 0, "titleX": -37, "titleY": -24.7, "titleAlign": "center", "titleBaseline": "middle",
                          "titleFontSize": 17.5, "titleFontWeight": "normal", "domain": false, "ticks": false, "tickSize": 0, "labelAlign": "left", "labelPadding": 48, "labelFontSize": 14,
                          "labelExpr": "split(datum.value,'|')[1]"}}
                    }
                  },
                  {
                    "data": {"name": "sep"},
                    "mark": {"type": "rule", "strokeWidth": 3.5, "color": "black"},
                    "encoding": {"x": {"field": "s", "type": "nominal", "sort": ["p1", "p2", "p3", "h1", "h2", "h3"], "bandPosition": 0}}
                  }
                ]
              },
              {
                "width": 15.5, "height": 120,
                "layer": [
                  {
                    "data": {"name": "cb15"},
                    "mark": {"type": "rect", "stroke": "black", "strokeWidth": 3,
                      "fill": {"gradient": "linear", "x1": 0, "y1": 1, "x2": 0, "y2": 0, "stops": [{"offset": 0, "color": "#2f6eaa"}, {"offset": 0.4, "color": "#ffffff"}, {"offset": 1, "color": "#e5383b"}]}},
                    "encoding": {
                      "y": {"field": "lo", "type": "quantitative", "scale": {"domain": [0, 15], "nice": false, "zero": false},
                        "axis": {"orient": "right", "values": [0, 5, 10, 15], "domain": false, "ticks": false, "grid": false, "labelFlush": false, "labelPadding": 4.8, "labelFontSize": 15,
                          "title": "Log2(FPKM+1)", "titleAngle": 270, "titleBaseline": "top", "titleFontSize": 13, "titleFontWeight": "normal", "titlePadding": 10}},
                      "y2": {"field": "hi"}
                    }
                  },
                  {
                    "data": {"name": "tk"},
                    "mark": {"type": "rule", "strokeDash": [5, 3], "strokeWidth": 2.5, "color": "black"},
                    "encoding": {"y": {"field": "t", "type": "quantitative"}}
                  }
                ]
              }
            ]
          }
        ]
      }
    ]
  }
]
}
